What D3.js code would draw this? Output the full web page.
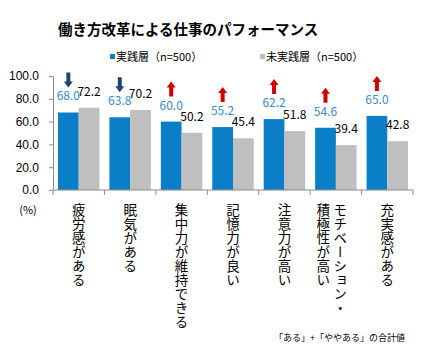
<!DOCTYPE html>
<html>
<head>
<meta charset="utf-8">
<script src="https://cdn.jsdelivr.net/npm/d3@7"></script>
<style>
  body { margin: 0; background: #fff; }
  svg { display: block; font-family: "Noto Sans CJK JP", "Noto Sans", sans-serif; }
  .axis path, .axis line { stroke: #8c8c8c; }
  .axis text { font-size: 12px; fill: #000; }
</style>
</head>
<body>
<svg id="chart" width="425" height="350"></svg>
<script>
const categories = ["疲労感がある", "眠気がある", "集中力が維持できる", "記憶力が良い", "注意力が高い", "モチベーション・|積極性が高い", "充実感がある"];
const jissen = [68.0, 63.8, 60.0, 55.2, 62.2, 54.6, 65.0];
const mijissen = [72.2, 70.2, 50.2, 45.4, 51.8, 39.4, 42.8];
const arrows = ["down", "down", "up", "up", "up", "up", "up"];
const yTicks = [0, 20, 40, 60, 80, 100];
const seriesNames = ["実践層（n=500）", "未実践層（n=500）"];

const svg = d3.select("#chart");
const colors = {blue: "#0a7fc8", gray: "#bfbfbf", blueText: "#3b87c8", up: "#d00000", down: "#1f4470"};

const x = d3.scaleBand().domain(d3.range(categories.length)).range([53, 413]);
const xs = d3.scaleBand().domain([0, 1]).range([0, x.bandwidth()]).paddingOuter(0.24);
const y = d3.scaleLinear().domain([0, 100]).range([190, 76]);

// title
svg.append("text")
  .attr("x", 58).attr("y", 35)
  .style("font-size", "14.5px").style("font-weight", "bold")
  .text("働き方改革による仕事のパフォーマンス");

// legend
const legend = svg.append("g").selectAll("g")
  .data(seriesNames)
  .enter().append("g")
  .attr("transform", (d, i) => "translate(" + (i == 0 ? 110 : 260) + ",0)");
legend.append("rect")
  .attr("x", 0).attr("y", 54).attr("width", 5).attr("height", 5)
  .attr("fill", (d, i) => i == 0 ? colors.blue : colors.gray);
legend.append("text")
  .attr("x", 6).attr("y", 61)
  .style("font-size", "11px")
  .text(d => d);

// y axis
svg.append("g")
  .attr("class", "axis")
  .attr("transform", "translate(53,0)")
  .call(d3.axisLeft(y).tickValues(yTicks).tickFormat(d3.format(".1f")).tickSize(4).tickSizeOuter(0).tickPadding(10));

// bars
const groups = svg.append("g").selectAll("g")
  .data(categories.map((c, i) => i))
  .enter().append("g")
  .attr("transform", i => "translate(" + x(i) + ",0)");

groups.append("rect")
  .attr("x", xs(0)).attr("width", xs.bandwidth())
  .attr("y", i => y(jissen[i])).attr("height", i => y(0) - y(jissen[i]))
  .attr("fill", colors.blue);
groups.append("rect")
  .attr("x", xs(1)).attr("width", xs.bandwidth())
  .attr("y", i => y(mijissen[i])).attr("height", i => y(0) - y(mijissen[i]))
  .attr("fill", colors.gray);

groups.append("text")
  .attr("x", xs(0) + xs.bandwidth() / 2).attr("y", i => y(jissen[i]) - 12)
  .attr("text-anchor", "middle").style("font-size", "12px")
  .attr("fill", colors.blueText)
  .text(i => jissen[i].toFixed(1));
groups.append("text")
  .attr("x", xs(1) + xs.bandwidth() / 2).attr("y", i => y(mijissen[i]) - 12)
  .attr("text-anchor", "middle").style("font-size", "12px")
  .attr("fill", "#000")
  .text(i => mijissen[i].toFixed(1));

// block arrows above the blue labels
const upArrow = "M0,-7.5 L4.5,-1.5 L2,-1.5 L2,7.5 L-2,7.5 L-2,-1.5 L-4.5,-1.5 Z";
const downArrow = "M0,7.5 L4.5,1.5 L2,1.5 L2,-7.5 L-2,-7.5 L-2,1.5 L-4.5,1.5 Z";
groups.append("path")
  .attr("transform", i => "translate(" + (xs(0) + xs.bandwidth() / 2) + "," + (y(jissen[i]) - 12 - 13 - 7.5) + ")")
  .attr("d", i => arrows[i] == "up" ? upArrow : downArrow)
  .attr("fill", i => arrows[i] == "up" ? colors.up : colors.down);

// x axis line and boundary ticks
const xAxis = svg.append("g").attr("class", "axis");
xAxis.append("line")
  .attr("x1", x.range()[0]).attr("x2", x.range()[1])
  .attr("y1", y(0)).attr("y2", y(0));
xAxis.selectAll("line.tick")
  .data(d3.range(categories.length + 1))
  .enter().append("line")
  .attr("class", "tick")
  .attr("x1", i => i < categories.length ? x(i) : x.range()[1])
  .attr("x2", i => i < categories.length ? x(i) : x.range()[1])
  .attr("y1", y(0)).attr("y2", y(0) + 5);

// vertical category labels
groups.each(function(i) {
  const lines = categories[i].split("|");
  const cx = x.bandwidth() / 2 + (lines.length > 1 ? -4 : 0);
  lines.forEach((t, k) => {
    const off = lines.length > 1 ? (k == 0 ? 8.5 : -8.5) : 0;
    d3.select(this).append("text")
      .attr("x", cx + off).attr("y", 203)
      .style("writing-mode", "vertical-rl")
      .style("font-size", "13.5px")
      .style("letter-spacing", "0.5px")
      .text(t);
  });
});

// unit and footnote
svg.append("text")
  .attr("x", 28).attr("y", 214).attr("text-anchor", "middle")
  .style("font-size", "11px")
  .text("(%)");
svg.append("text")
  .attr("x", 405).attr("y", 341).attr("text-anchor", "end")
  .style("font-size", "9px")
  .text("「ある」+「ややある」の合計値");
</script>
</body>
</html>
